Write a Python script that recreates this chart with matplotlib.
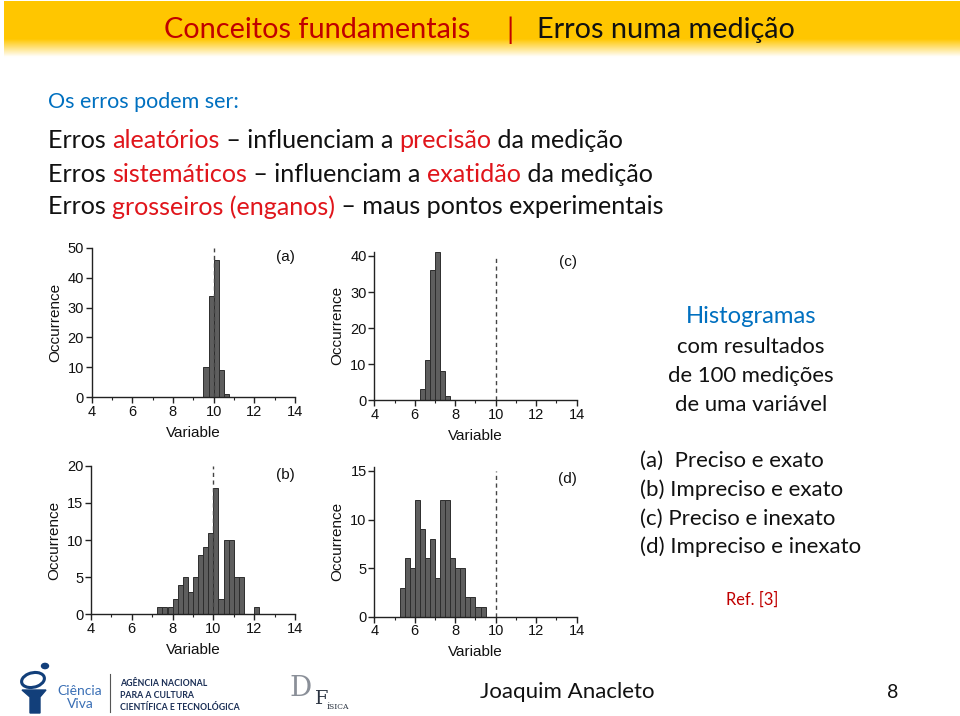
import numpy as np
import matplotlib
matplotlib.use("Agg")
import matplotlib.pyplot as plt
from matplotlib.ticker import MultipleLocator
from matplotlib.patches import Ellipse, Polygon, Circle

# ---------------- data ----------------
bin_width = 0.25
a_start = 9.5
a_counts = [10, 34, 46, 9, 1]
b_start = 7.25
b_counts = [1, 1, 1, 2, 4, 5, 3, 5, 8, 9, 11, 17, 2, 10, 10, 5, 5, 0, 0, 1]
c_start = 6.25
c_counts = [3, 11, 36, 41, 8, 1]
d_start = 5.25
d_counts = [3, 6, 5, 12, 9, 6, 8, 4, 12, 12, 6, 5, 5, 2, 2, 1, 1]
true_value = 10
x_ticks = [4, 6, 8, 10, 12, 14]

title_left = "Conceitos fundamentais"
title_right = "Erros numa medição"
intro = "Os erros podem ser:"
lines = [
    [("Erros ", "k"), ("aleatórios", "r"), (" – influenciam a ", "k"), ("precisão", "r"), (" da medição", "k")],
    [("Erros ", "k"), ("sistemáticos", "r"), (" – influenciam a ", "k"), ("exatidão", "r"), (" da medição", "k")],
    [("Erros ", "k"), ("grosseiros (enganos)", "r"), (" – maus pontos experimentais", "k")],
]
side_head = "Histogramas"
side_lines = ["com resultados", "de 100 medições", "de uma variável"]
cases = ["(a)  Preciso e exato", "(b) Impreciso e exato", "(c) Preciso e inexato", "(d) Impreciso e inexato"]

W, H = 960, 716
fig = plt.figure(figsize=(W / 100, H / 100), dpi=100)
FONT = "Lato"
RED = "#E0151B"
DARKRED = "#C00000"
BLUE = "#0070C0"
cmap = {"k": "#111111", "r": RED}

# header gradient band
hax = fig.add_axes([4 / W, 1 - 58 / H, 1 - 4 / W, 57 / H])
hax.set_axis_off()
n = 100
grad = np.ones((n, 1, 3))
y_px = np.linspace(0, 57, n)
base = np.array([1.0, 0.78, 0.0])
for i, yy in enumerate(y_px):
    t = 0.0 if yy < 38 else min(1.0, (yy - 38) / 18)
    grad[i, 0, :] = base * (1 - t) + np.array([1, 1, 1]) * t
hax.imshow(grad, aspect="auto", extent=[0, 1, 0, 1], origin="upper")
hax.set_xlim(0, 1); hax.set_ylim(0, 1)

def px(x, y):
    return x / W, 1 - y / H

renderer = fig.canvas.get_renderer()

def segs(x, y, pieces, size):
    cx = x
    for txt, col in pieces:
        t = fig.text(*px(cx, y), txt, color=cmap.get(col, col), fontsize=size,
                     fontfamily=FONT, va="center", ha="left")
        bb = t.get_window_extent(renderer=renderer)
        cx += bb.width

fig.text(*px(470, 30), title_left, color=DARKRED, fontsize=20.8, fontfamily=FONT, ha="right", va="center")
fig.text(*px(510, 30), "|", color=DARKRED, fontsize=20.8, fontfamily=FONT, ha="center", va="center")
fig.text(*px(537, 30), title_right, color="#111111", fontsize=20.8, fontfamily=FONT, ha="left", va="center")

fig.text(*px(48, 102), intro, color=BLUE, fontsize=15.5, fontfamily=FONT, ha="left", va="center")
for i, pieces in enumerate(lines):
    segs(48, 141 + i * 33, pieces, 18.1)

# side text
fig.text(*px(751, 317), side_head, color=BLUE, fontsize=17.2, fontfamily=FONT, ha="center", va="center")
for i, s in enumerate(side_lines):
    fig.text(*px(751, 347 + i * 29), s, color="#111111", fontsize=15.9, fontfamily=FONT, ha="center", va="center")
for i, s in enumerate(cases):
    fig.text(*px(640, 461 + i * 28.7), s, color="#111111", fontsize=16.0, fontfamily=FONT, ha="left", va="center")
fig.text(*px(752, 600), "Ref. [3]", color=DARKRED, fontsize=11.9, fontfamily=FONT, ha="center", va="center")

# footer
fig.text(*px(567, 692), "Joaquim Anacleto", color="#111111", fontsize=16, fontfamily=FONT, ha="center", va="center")
fig.text(*px(893, 692), "8", color="#111111", fontsize=14, fontfamily=FONT, ha="center", va="center")
# Ciencia Viva logo (simple shapes)
fig.patches.append(Ellipse(px(33, 680), 24 / W, 14 / H, angle=30, fill=False, ec="#123F7A", lw=2.2,
                           transform=fig.transFigure))
fig.patches.append(Circle(px(45, 666), 3.5 / W, color="#123F7A", transform=fig.transFigure))
fig.patches.append(Polygon([px(22, 690), px(46, 690), px(40, 697), px(40, 713), px(30, 713), px(30, 697)],
                           closed=True, color="#123F7A", transform=fig.transFigure))
fig.text(*px(80, 691), "Ciência", color="#3A6FB5", fontsize=10, fontfamily=FONT, ha="center", va="center")
fig.text(*px(80, 704), "Viva", color="#3A6FB5", fontsize=10, fontfamily=FONT, ha="center", va="center")
fig.lines.append(plt.Line2D([110 / W, 110 / W], [1 - 674 / H, 1 - 712 / H], color="#555555", lw=0.8, transform=fig.transFigure))
for i, s in enumerate(["AGÊNCIA NACIONAL", "PARA A CULTURA", "CIENTÍFICA E TECNOLÓGICA"]):
    fig.text(*px(120, 684 + i * 12), s, color="#1A2E55", fontsize=6.3, fontfamily=FONT, fontweight="bold", ha="left", va="center")
fig.text(*px(301, 688), "D", color="#8A8F98", fontsize=20, fontfamily="DejaVu Serif", ha="center", va="center")
fig.text(*px(322, 699), "F", color="#2A3340", fontsize=14, fontfamily="DejaVu Serif", ha="center", va="center")
fig.text(*px(338, 707), "ÍSICA", color="#2A3340", fontsize=5.5, fontfamily="DejaVu Serif", ha="center", va="center")

# histograms
AXF = "Liberation Sans"
panels = [
    ("(a)", a_start, a_counts, 50, 10, [91.5 / W, 0.4451, 0.2120, 0.2090], 50, 0.94),
    ("(c)", c_start, c_counts, 41.2, 10, [374.3 / W, 0.4413, 0.2108, 0.2072], 40, 0.93),
    ("(b)", b_start, b_counts, 20, 5, [91.0 / W, 0.1420, 0.2125, 0.2076], 20, 0.94),
    ("(d)", d_start, d_counts, 15.4, 5, [374.3 / W, 0.1387, 0.2108, 0.2090], 15, 0.92),
]
for label, start, counts, ymax, ystep, rect, ytop, ly in panels:
    ax = fig.add_axes(rect)
    lefts = start + bin_width * np.arange(len(counts))
    ax.bar(lefts, counts, width=bin_width, align="edge", color="#5E5E5E",
           edgecolor="#2E2E2E", linewidth=0.7, zorder=2)
    ax.plot([true_value, true_value], [0, ytop], ls=(0, (3, 2.5)), color="#444444", lw=1.0, zorder=3)
    ax.set_xlim(4, 14)
    ax.set_ylim(0, ymax)
    ax.set_xticks(x_ticks)
    ax.xaxis.set_minor_locator(MultipleLocator(1))
    ax.yaxis.set_major_locator(MultipleLocator(ystep))
    for s in ["top", "right"]:
        ax.spines[s].set_visible(False)
    for s in ["left", "bottom"]:
        ax.spines[s].set_linewidth(1.0)
        ax.spines[s].set_color("#222222")
    ax.tick_params(axis="both", which="major", direction="out", length=4, width=1,
                   labelsize=10.5, colors="#222222", pad=1.5)
    ax.tick_params(axis="both", which="minor", direction="out", length=2.5, width=0.8, colors="#222222")
    ax.tick_params(axis="y", which="minor", left=False)
    for tl in ax.get_xticklabels() + ax.get_yticklabels():
        tl.set_fontfamily(AXF)
        tl.set_color("#111111")
    ax.set_xlabel("Variable", fontsize=11, fontfamily=AXF, labelpad=5, color="#111111")
    ax.set_ylabel("Occurrence", fontsize=11, fontfamily=AXF, labelpad=4, color="#111111")
    ax.text(1.0, ly, label, transform=ax.transAxes,
            fontsize=11, fontfamily=AXF, ha="right", va="center", color="#111111")
    ax.patch.set_alpha(0)

fig.savefig("out.png", dpi=100, facecolor="white")
